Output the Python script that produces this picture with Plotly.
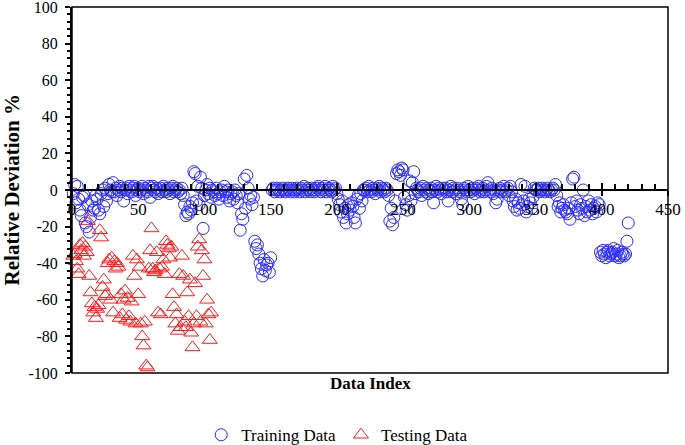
import plotly.graph_objects as go

# Training data: relative deviation (%) per data index 1..420
train_dev = [
    -2, 3, -7, 2, -5, -11, -14, -4, -3, -18,
    -20, -8, -23, -15, -6, -11, -10, -3, -5, -11,
    -13, -2, 0, -9, 1, -6, -2, 3, 0, -1,
    4, -1, 1, -3, 0, 2, -1, 1, -6, 0,
    1, -2, 2, 0, -1, 1, 2, -3, 0, 1,
    -1, 0, 2, -2, 1, 0, -1, 2, -4, 1,
    2, 0, -1, 1, -2, 0, 1, -1, 2, 0,
    -1, 1, 0, -2, 1, 2, -1, 0, 1, -1,
    0, -2, 1, -3, -8, -14, -12, -13, -9, -11,
    -7, 10, 9, -6, 2, -8, 7, 1, -21, -3,
    0, 3, -2, 1, -4, 0, -1, -3, 1, -2,
    -5, -1, 0, -3, 2, -1, -4, 0, -6, -2,
    -1, -5, 0, -3, -7, -2, -22, -13, -16, 6,
    -10, 8, 1, -5, -3, -8, -4, -28, -32, -30,
    -35, -40, -43, -47, -38, -44, -41, -40, -45, -37,
    0, 1, -1, 0, 1, 0, -1, 0, 1, 0,
    -1, 0, 1, 0, -1, 1, 0, -1, 0, 1,
    0, -1, 1, 0, 2, -1, 0, 1, 0, -1,
    1, 0, -1, 0, 1, 2, 0, -1, 1, 0,
    2, -1, 0, 1, 0, -1, 2, 0, 1, -2,
    -5, -8, -12, -6, -15, -10, -18, -13, -8, -11,
    -7, -9, -15, -18, -5, -3, -10, -2, -6, 0,
    0, 1, -1, 2, 0, -1, 1, 0, -2, 1,
    0, 2, -1, 1, 0, -1, 1, 0, -3, -17,
    -10, -19, -15, -6, 9, 11, 10, 8, 12, 11,
    -4, -8, -11, -3, 5, -6, 4, 10, -2, 1,
    0, -1, 1, -3, 2, 0, -1, 1, -2, 0,
    1, -1, -7, 0, 2, -1, 1, 0, -2, 1,
    0, 1, -1, -6, 0, 2, -1, 1, 0, -2,
    1, 0, -1, -5, -8, 1, 0, -1, 2, 0,
    -1, 1, 0, -2, 1, 0, 2, -1, 0, 1,
    -1, 0, 2, 4, 0, -1, 1, -2, 0, -7,
    -5, 0, 1, -1, 0, 2, -1, 0, 1, -3,
    2, -1, -6, -9, -5, -11, -7, -10, 3, -8,
    -6, 2, -12, -9, -5, -7, -10, -4, 1, 0,
    0, 1, -1, 0, 1, 0, -1, 0, 1, 0,
    -1, 0, 1, 0, 3, -3, -9, -7, -12, -10,
    -8, -11, -12, -13, -10, -16, -7, 6, 7, -9,
    -6, -11, -13, -8, -10, 0, -14, -9, -12, -6,
    -11, -8, -13, -10, -9, -12, -7, -8, -34, -36,
    -33, -35, -37, -34, -33, -36, -35, -34, -32, -36,
    -35, -33, -37, -36, -34, -35, -36, -35, -28, -18,
]
train_idx = list(range(1, len(train_dev) + 1))

# Testing data: relative deviation (%) per data index 1..105
test_dev = [
    -36, -35, -39, -43, -46, -30, -33, -29, -36, -31,
    -34, -17, -47, -56, -62, -67, -64, -70, -65, -63,
    -22, -26, -53, -49, -58, -57, -40, -38, -60, -37,
    -67, -39, -43, -40, -42, -70, -57, -68, -60, -55,
    -71, -59, -69, -72, -61, -36, -47, -73, -38, -57,
    -42, -73, -80, -85, -72, -96, -97, -43, -33, -21,
    -43, -45, -44, -34, -67, -43, -68, -42, -38, -46,
    -28, -30, -32, -37, -31, -57, -64, -73, -68, -77,
    -46, -75, -36, -47, -72, -75, -56, -69, -49, -78,
    -86, -73, -51, -69, -31, -27, -72, -33, -47, -38,
    -73, -60, -68, -82, -67,
]
test_idx = list(range(1, len(test_dev) + 1))

y_ticks = [100, 80, 60, 40, 20, 0, -20, -40, -60, -80, -100]
y_labels = ["100", "80", "60", "40", "20", "0", "-20", "-40", "-60", "-80", "-100"]
x_ticks = [0, 50, 100, 150, 200, 250, 300, 350, 400, 450]

FONT = "Liberation Serif"

fig = go.Figure()

fig.add_trace(go.Scatter(
    x=train_idx, y=train_dev, mode="markers", name="Training Data",
    marker=dict(symbol="circle-open", size=12, color="#2a2aff", line=dict(width=1)),
    cliponaxis=False,
))
fig.add_trace(go.Scatter(
    x=test_idx, y=test_dev, mode="markers", name="Testing Data",
    marker=dict(symbol="triangle-up-open", size=13, color="#ff1a1a", line=dict(width=1)),
    cliponaxis=False,
))

fig.update_layout(
    width=685, height=445,
    margin=dict(l=72, r=17, t=7, b=72, autoexpand=False),
    paper_bgcolor="white", plot_bgcolor="white",
    font=dict(family=FONT, color="black"),
    showlegend=True,
    legend=dict(orientation="h", x=0.445, xanchor="center", y=-0.17, yanchor="middle",
                font=dict(size=17, family=FONT), itemwidth=30),
    xaxis=dict(
        range=[0, 450], tickvals=x_ticks, anchor="free", position=0.5,
        showline=True, linecolor="black", linewidth=2,
        ticks="inside", ticklen=6, tickwidth=2, tickcolor="black",
        minor=dict(dtick=10, tick0=0, ticks="inside", ticklen=5, tickwidth=1.5, tickcolor="black"),
        ticklabelstandoff=4, ticklabeloverflow="allow",
        tickfont=dict(size=17, family=FONT),
        showgrid=False, zeroline=False,
    ),
    xaxis2=dict(
        range=[0, 450], tickvals=x_ticks, anchor="free", position=0.5, overlaying="x",
        showline=False, ticks="outside", ticklen=5, tickwidth=2, tickcolor="black",
        showticklabels=False, showgrid=False, zeroline=False,
    ),
    yaxis=dict(
        range=[-100, 100], tickvals=y_ticks, ticktext=y_labels,
        showline=True, linecolor="black", linewidth=2,
        ticks="outside", ticklen=5, tickwidth=2, tickcolor="black",
        minor=dict(dtick=4, tick0=0, ticks="outside", ticklen=3, tickwidth=1.5, tickcolor="black"),
        ticklabelstandoff=4, ticklabeloverflow="allow",
        tickfont=dict(size=16, family=FONT),
        showgrid=False, zeroline=False,
    ),
    shapes=[dict(type="rect", xref="paper", yref="paper", x0=0, x1=1, y0=0, y1=1,
                 line=dict(color="black", width=1.5), layer="above")],
    annotations=[
        dict(text="<b>Data Index</b>", xref="paper", yref="paper", x=0.5, y=-0.03,
             xanchor="center", yanchor="middle", showarrow=False,
             font=dict(size=17, family=FONT)),
        dict(text="<b>Relative Deviation %</b>", xref="paper", yref="paper", x=-0.1, y=0.5,
             xanchor="center", yanchor="middle", textangle=-90, showarrow=False,
             font=dict(size=21, family=FONT)),
    ],
)

# invisible trace so the overlaid axis (crossing major ticks) gets drawn
fig.add_trace(go.Scatter(x=[0], y=[0], xaxis="x2", mode="markers",
                         marker=dict(opacity=0), showlegend=False, hoverinfo="skip"))

# drop the browser's default 8px body margin so the figure sits at the page corner
fig.write_html("out.html", config={"displayModeBar": False},
               post_script="document.body.style.margin='0';")
